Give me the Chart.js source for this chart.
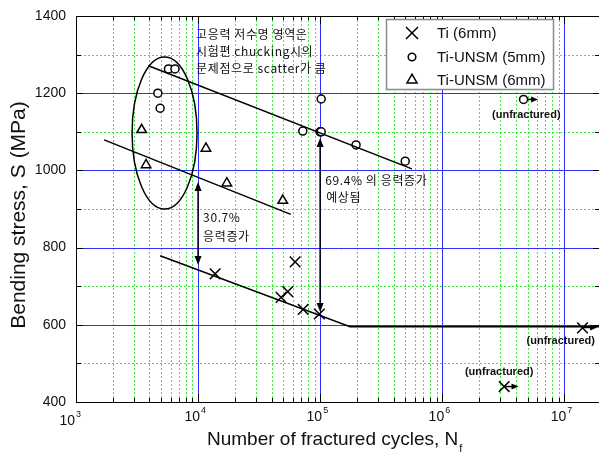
<!DOCTYPE html>
<html>
<head>
<meta charset="utf-8">
<script src="https://cdn.jsdelivr.net/npm/chart.js@4.4.1/dist/chart.umd.min.js"></script>
<style>
  html, body { margin: 0; padding: 0; background: #fff; overflow: hidden; }
  #chart { display: block; }
</style>
</head>
<body>
<canvas id="chart" width="601" height="452"></canvas>
<script>
'use strict';

// test points (cycles, MPa)
var tiCycles = [13800, 47900, 54300, 62400, 72600, 98600, 3220000, 14100000];
var tiStress = [732, 671, 686, 763, 640, 628, 440, 592];

var unsm5Cycles = [4680, 4890, 5720, 6470, 72100, 100000, 102000, 102000, 197000, 498000, 4640000];
var unsm5Stress = [1200, 1161, 1263, 1263, 1102, 1100, 1100, 1185, 1066, 1024, 1184];

var unsm6Cycles = [3450, 3750, 11600, 17200, 49400];
var unsm6Stress = [1105, 1014, 1057, 967, 922];

var seriesNames = ['Ti (6mm)', 'Ti-UNSM (5mm)', 'Ti-UNSM (6mm)'];

// fitted S-N lines
var tiFitCycles = [4890, 176000, 20000000];
var tiFitStress = [779, 595, 595];
var unsm5FitCycles = [3920, 565000];
var unsm5FitStress = [1271, 1004];
var unsm6FitCycles = [1700, 57500];
var unsm6FitStress = [1079, 886];

// run-out arrows (start point, arrow tip)
var runoutCycles = [4640000, 14100000, 3220000];
var runoutTipCycles = [6100000, 18600000, 4220000];
var runoutStress = [1184, 593, 440];
var runoutLabelCycles = [4890000, 9360000, 2930000];
var runoutLabelStress = [1144, 558, 478];

// stress gain arrows
var gainCycles = [10000, 100000];
var gainTop = [970, 1084];
var gainBottom = [755, 633];

// ellipse around the scatter zone
var zoneCycles = [2880, 9810];
var zoneStress = [900, 1294];

var noteText = ['고응력 저수명 영역은', '시험편 chucking시의', '문제점으로 scatter가 큼', '30.7%', '응력증가', '69.4% 의 응력증가', '예상됨'];
var noteCycles = [9640, 9640, 9640, 11000, 11000, 110000, 112000];
var noteStress = [1351, 1307, 1263, 877, 830, 975, 931];

var xDecades = [3, 4, 5, 6, 7];
var xMax = 20000000;

function pts(xs, ys) {
  var out = [];
  for (var i = 0; i < xs.length; i++) out.push({x: xs[i], y: ys[i]});
  return out;
}

function seg(ctx, x1, y1, x2, y2) {
  ctx.beginPath();
  ctx.moveTo(x1, y1);
  ctx.lineTo(x2, y2);
  ctx.stroke();
}

function head(ctx, x, y, ang, len, w) {
  ctx.save();
  ctx.translate(x, y);
  ctx.rotate(ang);
  ctx.beginPath();
  ctx.moveTo(0, 0);
  ctx.lineTo(-len, -w);
  ctx.lineTo(-len, w);
  ctx.closePath();
  ctx.fill();
  ctx.restore();
}

var FONT = '"Liberation Sans", Arial, sans-serif';
var KFONT = '"Noto Sans CJK KR", "Liberation Sans", sans-serif';

var decor = {
  id: 'decor',
  beforeDatasetsDraw: function(chart) {
    var ctx = chart.ctx, a = chart.chartArea;
    var xs = chart.scales.x, ys = chart.scales.y;
    ctx.save();
    ctx.lineWidth = 1;
    // minor grid
    ctx.strokeStyle = '#33ee33';
    ctx.setLineDash([2, 2]);
    xs.ticks.forEach(function(t) {
      var lg = Math.log10(t.value);
      if (Math.abs(lg - Math.round(lg)) < 1e-6) return;
      if (t.value >= xMax) return;
      var px = Math.round(xs.getPixelForValue(t.value)) + 0.5;
      seg(ctx, px, a.top, px, a.bottom);
    });
    ys.ticks.forEach(function(t) {
      if (t.value % 200 === 0) return;
      var py = Math.round(ys.getPixelForValue(t.value)) + 0.5;
      seg(ctx, a.left, py, a.right, py);
    });
    // major grid
    ctx.setLineDash([]);
    ctx.strokeStyle = '#2f2fff';
    xDecades.forEach(function(e) {
      if (e === 3) return;
      var px = Math.round(xs.getPixelForValue(Math.pow(10, e))) + 0.5;
      seg(ctx, px, a.top, px, a.bottom);
    });
    ys.ticks.forEach(function(t) {
      if (t.value % 200 !== 0 || t.value === ys.min || t.value === ys.max) return;
      var py = Math.round(ys.getPixelForValue(t.value)) + 0.5;
      seg(ctx, a.left, py, a.right, py);
    });

    // run-out arrows (under markers)
    ctx.strokeStyle = '#000';
    ctx.fillStyle = '#000';
    ctx.lineWidth = 1.5;
    for (var i = 0; i < runoutCycles.length; i++) {
      var x1 = xs.getPixelForValue(runoutCycles[i]);
      var x2 = xs.getPixelForValue(runoutTipCycles[i]);
      var y = ys.getPixelForValue(runoutStress[i]);
      seg(ctx, x1, y, x2 - 5, y);
      head(ctx, x2, y, 0, 7, 3);
    }
    ctx.restore();
  },
  afterDraw: function(chart) {
    var ctx = chart.ctx, a = chart.chartArea;
    var xs = chart.scales.x, ys = chart.scales.y;
    ctx.save();

    // ellipse
    var ex1 = xs.getPixelForValue(zoneCycles[0]), ex2 = xs.getPixelForValue(zoneCycles[1]);
    var ey1 = ys.getPixelForValue(zoneStress[1]), ey2 = ys.getPixelForValue(zoneStress[0]);
    ctx.strokeStyle = '#000';
    ctx.lineWidth = 1.5;
    ctx.beginPath();
    ctx.ellipse((ex1 + ex2) / 2, (ey1 + ey2) / 2, (ex2 - ex1) / 2, (ey2 - ey1) / 2, 0, 0, Math.PI * 2);
    ctx.stroke();

    // stress gain arrows
    ctx.fillStyle = '#000';
    for (var i = 0; i < gainCycles.length; i++) {
      var gx = xs.getPixelForValue(gainCycles[i]);
      var gt = ys.getPixelForValue(gainTop[i]);
      var gb = ys.getPixelForValue(gainBottom[i]);
      ctx.lineWidth = 1.5;
      seg(ctx, gx, gt + 6, gx, gb - 6);
      head(ctx, gx, gt, -Math.PI / 2, 9, 3.5);
      head(ctx, gx, gb, Math.PI / 2, 9, 3.5);
    }

    // frame
    ctx.lineWidth = 1;
    ctx.strokeStyle = '#000';
    ctx.strokeRect(a.left + 0.5, a.top + 0.5, a.right - a.left - 1, a.bottom - a.top);

    // inward ticks
    xs.ticks.forEach(function(t) {
      var lg = Math.log10(t.value);
      var major = Math.abs(lg - Math.round(lg)) < 1e-6;
      var len = major ? 8 : 4;
      var px = Math.round(xs.getPixelForValue(t.value)) + 0.5;
      seg(ctx, px, a.bottom, px, a.bottom - len);
      seg(ctx, px, a.top, px, a.top + len);
    });
    ys.ticks.forEach(function(t) {
      var len = t.value % 200 === 0 ? 7 : 5;
      var py = Math.round(ys.getPixelForValue(t.value)) + 0.5;
      seg(ctx, a.left, py, a.left + len, py);
      seg(ctx, a.right - 1, py, a.right - 1 - len, py);
    });

    // x tick labels 10^n
    ctx.fillStyle = '#111';
    ctx.textBaseline = 'alphabetic';
    xDecades.forEach(function(e) {
      var px = xs.getPixelForValue(Math.pow(10, e));
      var dx = e === 3 ? -1 : 2;
      var dy = e === 3 ? 4 : 0;
      ctx.font = '14px ' + FONT;
      ctx.textAlign = 'right';
      ctx.fillText('10', px + dx, 421 + dy);
      ctx.font = '9px ' + FONT;
      ctx.textAlign = 'left';
      ctx.fillText(String(e), px + dx + 1, 413 + dy);
    });

    // axis titles
    ctx.fillStyle = '#111';
    ctx.font = '19px ' + FONT;
    ctx.textAlign = 'left';
    var xt = 'Number of fractured cycles, N';
    ctx.fillText(xt, 207, 445);
    var xw = ctx.measureText(xt).width;
    ctx.font = '11px ' + FONT;
    ctx.fillText('f', 207 + xw + 1, 452);

    ctx.save();
    ctx.translate(25, 215);
    ctx.rotate(-Math.PI / 2);
    ctx.font = '21px ' + FONT;
    ctx.textAlign = 'center';
    ctx.fillText('Bending stress, S (MPa)', 0, 0);
    ctx.restore();

    // notes
    ctx.fillStyle = '#111';
    ctx.textBaseline = 'middle';
    ctx.textAlign = 'left';
    ctx.font = '12px ' + KFONT;
    ctx.letterSpacing = '0.6px';
    for (var n = 0; n < noteText.length; n++) {
      ctx.fillText(noteText[n], xs.getPixelForValue(noteCycles[n]), ys.getPixelForValue(noteStress[n]));
    }
    ctx.letterSpacing = '0px';
    ctx.font = 'bold 11px ' + FONT;
    ctx.textAlign = 'center';
    for (var r = 0; r < runoutLabelCycles.length; r++) {
      ctx.fillText('(unfractured)', xs.getPixelForValue(runoutLabelCycles[r]), ys.getPixelForValue(runoutLabelStress[r]));
    }

    // legend box
    var lx = 386, ly = 19, lw = 167, lh = 70;
    ctx.fillStyle = '#fff';
    ctx.fillRect(lx, ly, lw, lh);
    ctx.strokeStyle = '#8a8a8a';
    ctx.lineWidth = 1.5;
    ctx.strokeRect(lx + 0.5, ly + 0.5, lw, lh);
    var styles = [
      {pointStyle: 'crossRot', radius: 8.5, rotation: 0, borderWidth: 1.5},
      {pointStyle: 'circle', radius: 3.8, rotation: 0, borderWidth: 1.5},
      {pointStyle: 'triangle', radius: 5.8, rotation: 0, borderWidth: 1.5}
    ];
    var rows = [33, 57, 80];
    for (var k = 0; k < 3; k++) {
      ctx.strokeStyle = '#000';
      ctx.fillStyle = '#fff';
      Chart.helpers.drawPoint(ctx, styles[k], 412, rows[k]);
      ctx.fillStyle = '#111';
      ctx.font = '15px ' + FONT;
      ctx.textAlign = 'left';
      ctx.textBaseline = 'middle';
      ctx.fillText(seriesNames[k], 437, rows[k] + 1);
    }
    ctx.restore();
  }
};

var lineStyle = {showLine: true, pointRadius: 0, borderColor: '#000', borderWidth: 1.5, fill: false};

new Chart(document.getElementById('chart'), {
  type: 'scatter',
  data: {
    datasets: [
      Object.assign({label: 'fit Ti', data: pts(tiFitCycles, tiFitStress)}, lineStyle),
      Object.assign({label: 'fit 5mm', data: pts(unsm5FitCycles, unsm5FitStress)}, lineStyle),
      Object.assign({label: 'fit 6mm', data: pts(unsm6FitCycles, unsm6FitStress)}, lineStyle),
      {
        label: seriesNames[0], data: pts(tiCycles, tiStress),
        pointStyle: 'crossRot', pointRadius: 7.5, borderColor: '#000', borderWidth: 1.5
      },
      {
        label: seriesNames[1], data: pts(unsm5Cycles, unsm5Stress),
        pointStyle: 'circle', pointRadius: 4, borderColor: '#000', backgroundColor: '#fff', borderWidth: 1.5
      },
      {
        label: seriesNames[2], data: pts(unsm6Cycles, unsm6Stress),
        pointStyle: 'triangle', pointRadius: 5.5, borderColor: '#000', backgroundColor: '#fff', borderWidth: 1.5
      }
    ]
  },
  options: {
    responsive: false,
    animation: false,
    layout: {autoPadding: false, padding: {top: 16, right: 0, bottom: 0, left: 0}},
    plugins: {legend: {display: false}, tooltip: {enabled: false}},
    scales: {
      x: {
        type: 'logarithmic',
        min: 1000,
        max: xMax,
        grid: {display: false, drawTicks: false},
        border: {display: false},
        ticks: {display: false},
        afterBuildTicks: function(scale) {
          var list = [];
          xDecades.forEach(function(e) {
            for (var m = 1; m <= 9; m++) {
              var v = m * Math.pow(10, e);
              if (v <= xMax) list.push({value: v});
            }
          });
          scale.ticks = list;
        },
        afterFit: function(scale) {
          scale.height = 50;
          scale.paddingLeft = 0;
          scale.paddingRight = 0;
        }
      },
      y: {
        min: 400,
        max: 1400,
        grid: {display: false, drawTicks: false},
        border: {display: false},
        ticks: {
          stepSize: 100,
          padding: 10,
          color: '#111',
          font: {family: FONT, size: 14},
          callback: function(v) { return v % 200 === 0 ? String(v) : ''; }
        },
        afterFit: function(scale) {
          scale.width = 76;
          scale.paddingTop = 0;
          scale.paddingBottom = 0;
        }
      }
    }
  },
  plugins: [decor]
});
</script>
</body>
</html>
